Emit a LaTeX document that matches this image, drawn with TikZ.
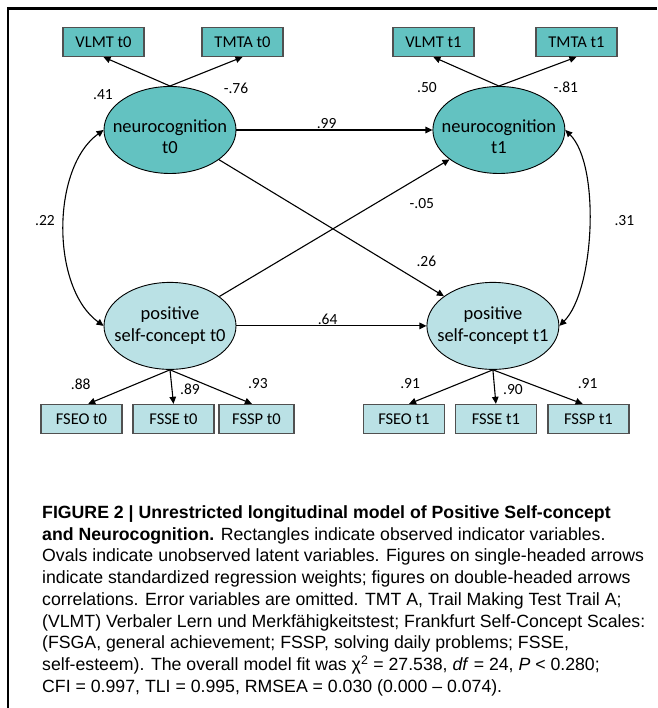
\documentclass[tikz,border=0pt]{standalone}
\usepackage{fontspec}
\setmainfont{Liberation Sans}
\newfontfamily\diagfont{Carlito}
\usetikzlibrary{arrows.meta, positioning, shapes.geometric}

\definecolor{ncfill}{RGB}{99,194,193}
\definecolor{psfill}{RGB}{186,225,229}
\definecolor{boxline}{RGB}{80,80,80}

\begin{document}
\begin{tikzpicture}[
    x=1pt, y=1pt,
    node distance=29pt and 196pt,
    latent/.style={draw, ellipse, line width=0.9pt, minimum width=132pt, minimum height=87pt, inner xsep=-12pt, inner ysep=0pt, align=center, font=\diagfont\fontsize{18.5}{21.7}\selectfont},
    nclatent/.style={latent, fill=ncfill, text height=48pt, text depth=0pt},
    pslatent/.style={latent, fill=psfill},
    obs/.style={draw=boxline, rectangle, line width=1.2pt, minimum width=81pt, minimum height=29pt, inner sep=0pt, font=\diagfont\fontsize{16.5}{19}\selectfont},
    weight/.style={font=\diagfont\fontsize{15.5}{17}\selectfont, inner sep=1pt},
    caption/.style={align=left, inner sep=0pt, font=\fontsize{17.7}{21.75}\selectfont},
    arrow/.style={->, >={Triangle[length=7pt, width=6.5pt]}, line width=1.1pt}
]
\useasboundingbox (0,0) rectangle (657,708);
\draw[line width=2.7pt] (8,0) -- (8,699.5) -- (657,699.5);

% latent variables
\node[nclatent] (nc0) at (170,578) {neurocognition\\t0};
\node[nclatent, right=of nc0] (nc1) {neurocognition\\t1};
\node[pslatent, below=108pt of nc0] (ps0) {positive\\self-concept t0};
\node[pslatent, right=190pt of ps0] (ps1) {positive\\self-concept t1};

% indicators
\node[obs, fill=ncfill, above=of nc0, xshift=-66.5pt] (vlmt0) {VLMT t0};
\node[obs, fill=ncfill, above=of nc0, xshift=72.5pt] (tmta0) {TMTA t0};
\node[obs, fill=ncfill, above=of nc1, xshift=-65.5pt] (vlmt1) {VLMT t1};
\node[obs, fill=ncfill, above=of nc1, xshift=77.5pt] (tmta1) {TMTA t1};
\node[obs, fill=psfill, below=34pt of ps0, xshift=-88.5pt] (fseo0) {FSEO t0};
\node[obs, fill=psfill, below=34pt of ps0, xshift=3.5pt] (fsse0) {FSSE t0};
\node[obs, fill=psfill, below=34pt of ps0, xshift=86.5pt, minimum width=75pt] (fssp0) {FSSP t0};
\node[obs, fill=psfill, below=34pt of ps1, xshift=-89pt] (fseo1) {FSEO t1};
\node[obs, fill=psfill, below=34pt of ps1, xshift=3pt] (fsse1) {FSSE t1};
\node[obs, fill=psfill, below=34pt of ps1, xshift=95.5pt] (fssp1) {FSSP t1};

% loadings
\draw[arrow] (nc0.north) -- (vlmt0.south) node[weight, at start, xshift=-67pt, yshift=-8.5pt] {.41};
\draw[arrow] (nc0.north) -- (tmta0.south) node[weight, at start, xshift=66pt, yshift=-2.5pt] {-.76};
\draw[arrow] (nc1.north) -- (vlmt1.south) node[weight, at start, xshift=-72pt, yshift=-1.5pt] {.50};
\draw[arrow] (nc1.north) -- (tmta1.south) node[weight, at start, xshift=67pt, yshift=-1.5pt] {-.81};
\draw[arrow] (ps0.south) -- (fseo0.66) node[weight, at end, xshift=-7.5pt, yshift=20pt] {.88};
\draw[arrow] (ps0.south) -- (fsse0.north) node[weight, at end, xshift=16.5pt, yshift=14.5pt] {.89};
\draw[arrow] (ps0.south) -- (fssp0.107) node[weight, at end, xshift=6pt, yshift=20.5pt] {.93};
\draw[arrow] (ps1.south) -- (fseo1.71) node[weight, at end, xshift=1pt, yshift=20.5pt] {.91};
\draw[arrow] (ps1.south) -- (fsse1.north) node[weight, at end, xshift=17pt, yshift=14.5pt] {.90};
\draw[arrow] (ps1.south) -- (fssp1.111) node[weight, at end, xshift=5pt, yshift=20.5pt] {.91};

% paths between time points
\draw[arrow] (nc0) -- node[weight, above, pos=0.46] {.99} (nc1);
\draw[arrow] (ps0) -- node[weight, above, pos=0.48] {.64} (ps1);
\draw[arrow] (nc0) -- node[weight, pos=0.744, xshift=40pt] {.26} (ps1);
\draw[arrow] (ps0) -- node[weight, pos=0.68, xshift=46pt] {-.05} (nc1);

% correlations
\draw[arrow, <->] (nc0.west) to[out=216, in=144, looseness=0.85] node[weight, pos=0.47, left=8pt] {.22} (ps0.west);
\draw[arrow, <->] (nc1.east) to[out=-45, in=45, looseness=0.65] node[weight, pos=0.47, right=24pt] {.31} (ps1.east);

\node[caption, anchor=north west] (legend) at (42,202.7) {\textbf{FIGURE 2 | Unrestricted longitudinal model of Positive Self-concept}\\
\textbf{and Neurocognition.} Rectangles indicate observed indicator variables.\\
Ovals indicate unobserved latent variables. Figures on single-headed arrows\\
indicate standardized regression weights; figures on double-headed arrows\\
correlations. Error variables are omitted. TMT A, Trail Making Test Trail A;\\
(VLMT) Verbaler Lern und Merkfähigkeitstest; Frankfurt Self-Concept Scales:\\
(FSGA, general achievement; FSSP, solving daily problems; FSSE,\\
self-esteem). The overall model fit was χ\textsuperscript{2} = 27.538, \textit{df} = 24, \textit{P} < 0.280;\\
CFI = 0.997, TLI = 0.995, RMSEA = 0.030 (0.000 – 0.074).};
\end{tikzpicture}
\end{document}
